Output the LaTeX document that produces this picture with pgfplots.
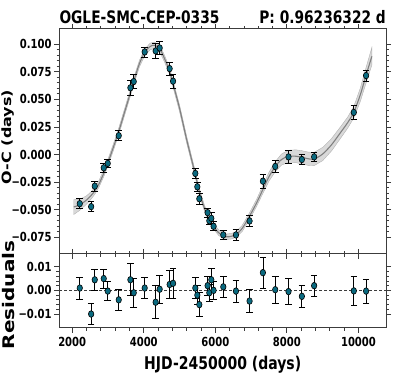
\documentclass[border=0pt]{standalone}
\usepackage{fontspec}
\setmainfont{DejaVu Sans}[FakeStretch=0.8]
\newfontfamily\rotfont{DejaVu Sans}
\usepackage{pgfplots}
\pgfplotsset{compat=1.18}

\definecolor{ptcol}{RGB}{10,106,128}
\definecolor{frame}{RGB}{60,60,60}

% observed O-C, residuals and errors
\pgfplotstableread{
x     oc      res     err
2212  -0.0445  0.0010  0.0047
2530  -0.0472 -0.0100  0.0045
2631  -0.0286  0.0045  0.0045
2882  -0.0120  0.0050  0.0040
2994  -0.0080 -0.0003  0.0040
3301   0.0171 -0.0040  0.0045
3627   0.0605  0.0045  0.0068
3720   0.0662 -0.0010  0.0062
4026   0.0930  0.0010  0.0045
4333   0.0939 -0.0050  0.0070
4445   0.0966  0.0005  0.0060
4724   0.0779  0.0025  0.0060
4819   0.0665  0.0030  0.0065
5441  -0.0171  0.0010  0.0045
5497  -0.0292 -0.0020  0.0040
5553  -0.0400 -0.0060  0.0050
5785  -0.0526  0.0020  0.0040
5832  -0.0600 -0.0010  0.0035
5888  -0.0578  0.0045  0.0050
5952  -0.0650  0.0000  0.0040
6223  -0.0728  0.0015  0.0045
6577  -0.0728 -0.0003  0.0047
6957  -0.0602 -0.0045  0.0050
7330  -0.0241  0.0075  0.0065
7674  -0.0108  0.0003  0.0058
8045  -0.0021 -0.0005  0.0055
8419  -0.0045 -0.0025  0.0048
8762  -0.0021  0.0020  0.0045
9870   0.0382 -0.0002  0.0060
10213  0.0716 -0.0003  0.0050
}\obs

% model curve
\pgfplotstableread{
x      m
2045  -0.0475
2212  -0.0455
2400  -0.0412
2530  -0.0370
2631  -0.0330
2750  -0.0265
2882  -0.0170
2994  -0.0077
3150   0.0065
3301   0.0210
3460   0.0380
3627   0.0560
3720   0.0665
3880   0.0825
4026   0.0925
4180   0.0980
4300   0.0990
4445   0.0960
4580   0.0870
4724   0.0754
4819   0.0640
5000   0.0420
5200   0.0135
5441  -0.0180
5553  -0.0335
5700  -0.0490
5832  -0.0590
5952  -0.0650
6100  -0.0710
6300  -0.0745
6450  -0.0740
6577  -0.0725
6750  -0.0670
6957  -0.0557
7150  -0.0440
7330  -0.0316
7500  -0.0200
7674  -0.0110
7850  -0.0045
8045  -0.0016
8250  -0.0015
8419  -0.0025
8600  -0.0038
8762  -0.0040
9000   0.0005
9250   0.0090
9500   0.0200
9700   0.0290
9870   0.0384
10050  0.0540
10213  0.0719
10374  0.0890
}\model

\pgfplotsset{
  panel/.style={
    scale only axis, width=326.7pt,
    xmin=1640, xmax=10770,
    scaled ticks=false,
    xtick={2000,4000,6000,8000,10000},
    minor x tick num=4, minor y tick num=4,
    tick align=outside, tick pos=both,
    major tick length=5pt, minor tick length=2.8pt,
    axis line style={frame, line width=1pt},
    every tick/.style={frame, line width=0.8pt},
    ticklabel style={font=\fontsize{12.5}{14}\selectfont\bfseries, inner sep=2.5pt},
  },
  pts/.style={only marks, mark=*, mark size=3.3pt,
    mark options={xscale=0.82, fill=ptcol, draw=black, line width=0.6pt},
    error bars/.cd, y dir=both, y explicit,
    error bar style={black, line width=0.8pt},
    error mark options={rotate=90, black, mark size=3.3pt, line width=0.8pt}},
}

\begin{document}
\begin{tikzpicture}
\path[use as bounding box] (0,0) rectangle (399pt,382pt);

\begin{axis}[panel, at={(59.3pt,128pt)}, anchor=south west, height=225pt,
  ymin=-0.0901, ymax=0.1138,
  xticklabel=\empty,
  ytick={-0.075,-0.05,-0.025,0,0.025,0.05,0.075,0.1},
  yticklabels={−0.075,−0.050,−0.025,0.000,0.025,0.050,0.075,0.100},
]
% confidence band: upper edge forward, lower edge back
\addplot[fill=gray!30, draw=gray!60, line width=0.4pt] coordinates {
 (2045,-0.0407) (2212,-0.0405) (2400,-0.0374) (2530,-0.0337) (2631,-0.0300)
 (2750,-0.0235) (2882,-0.0140) (2994,-0.0047) (3150,0.0095) (3301,0.0240)
 (3460,0.0410) (3627,0.0590) (3720,0.0695) (3880,0.0855) (4026,0.0955)
 (4180,0.1010) (4300,0.1020) (4445,0.0990) (4580,0.0900) (4724,0.0784)
 (4819,0.0670) (5000,0.0450) (5200,0.0165) (5441,-0.0152) (5553,-0.0307)
 (5700,-0.0463) (5832,-0.0565) (5952,-0.0625) (6100,-0.0685) (6300,-0.0720)
 (6450,-0.0715) (6577,-0.0700) (6750,-0.0642) (6957,-0.0527) (7150,-0.0408)
 (7330,-0.0281) (7500,-0.0160) (7674,-0.0065) (7850,0.0005) (8045,0.0039)
 (8250,0.0043) (8419,0.0035) (8600,0.0022) (8762,0.0020) (9000,0.0065)
 (9250,0.0146) (9500,0.0252) (9700,0.0340) (9870,0.0436) (10050,0.0600)
 (10213,0.0789) (10374,0.0970)
 (10374,0.0810) (10213,0.0649) (10050,0.0480) (9870,0.0332) (9700,0.0240)
 (9500,0.0148) (9250,0.0034) (9000,-0.0055) (8762,-0.0100) (8600,-0.0098)
 (8419,-0.0085) (8250,-0.0073) (8045,-0.0071) (7850,-0.0095) (7674,-0.0155)
 (7500,-0.0240) (7330,-0.0351) (7150,-0.0472) (6957,-0.0587) (6750,-0.0698)
 (6577,-0.0750) (6450,-0.0765) (6300,-0.0770) (6100,-0.0735) (5952,-0.0675)
 (5832,-0.0615) (5700,-0.0517) (5553,-0.0363) (5441,-0.0208) (5200,0.0105)
 (5000,0.0390) (4819,0.0610) (4724,0.0724) (4580,0.0840) (4445,0.0930)
 (4300,0.0960) (4180,0.0950) (4026,0.0895) (3880,0.0795) (3720,0.0635)
 (3627,0.0530) (3460,0.0350) (3301,0.0180) (3150,0.0035) (2994,-0.0107)
 (2882,-0.0200) (2750,-0.0295) (2631,-0.0360) (2530,-0.0403) (2400,-0.0450)
 (2212,-0.0505) (2045,-0.0543)
} -- cycle;
\addplot[gray, line width=1.1pt, smooth] table[x=x, y=m] {\model};
\addplot[pts] table[x=x, y=oc, y error=err] {\obs};
\end{axis}

\begin{axis}[panel, at={(59.3pt,54pt)}, anchor=south west, height=74pt,
  ymin=-0.0159, ymax=0.0154,
  xticklabels={2000,4000,6000,8000,10000},
  ytick={-0.01,0,0.01},
  yticklabels={−0.01,0.00,0.01},
  xticklabel style={yshift=-2pt},
]
\addplot[frame, line width=1pt, dash pattern=on 3pt off 2pt] coordinates {(1640,0) (10770,0)};
\addplot[pts] table[x=x, y=res, y error=err] {\obs};
\end{axis}

\node[anchor=base west, inner sep=0pt] at (59.3pt,358pt)
  {\fontsize{17.2}{20}\selectfont\bfseries OGLE-SMC-CEP-0335};
\node[anchor=base east, inner sep=0pt] at (386pt,358pt)
  {\fontsize{17.2}{20}\selectfont\bfseries P: 0.96236322 d};
\node[anchor=base, inner sep=0pt] at (222.7pt,12.7pt)
  {\fontsize{17.5}{20}\selectfont\bfseries HJD-2450000 (days)};
\node[rotate=90, anchor=center, inner sep=0pt] at (8pt,245pt)
  {\scalebox{1}[0.8]{\rotfont\fontsize{16}{20}\selectfont\bfseries O-C (days)}};
\node[rotate=90, anchor=center, inner sep=0pt] at (9pt,87pt)
  {\scalebox{1}[0.8]{\rotfont\fontsize{20}{24}\selectfont\bfseries Residuals}};
\end{tikzpicture}
\end{document}
